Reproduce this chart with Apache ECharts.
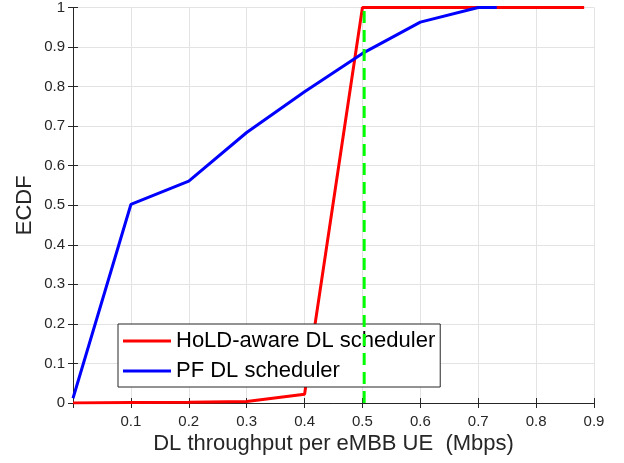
<!DOCTYPE html>
<html><head><meta charset="utf-8">
<script src="https://cdn.jsdelivr.net/npm/echarts@6/dist/echarts.min.js"></script>
<style>html,body{margin:0;padding:0;background:#fff}#c{width:624px;height:463px}</style>
</head><body><div id="c"></div>
<script>
const holdX = [0, 0.1, 0.2, 0.3, 0.4, 0.5, 0.6, 0.7, 0.8, 0.883];
const holdY = [0, 0.001, 0.002, 0.004, 0.022, 1, 1, 1, 1, 1];
const pfX = [0, 0.1, 0.2, 0.3, 0.4, 0.5, 0.6, 0.7, 0.732];
const pfY = [0.012, 0.502, 0.561, 0.684, 0.787, 0.884, 0.963, 1, 1];
const markX = [0.503, 0.503];
const markY = [0, 1];
const seriesNames = ['HoLD-aware DL scheduler', 'PF DL scheduler'];
const xLabel = 'DL throughput per eMBB UE  (Mbps)';
const yLabel = 'ECDF';

const zip = (a, b) => a.map((v, i) => [v, b[i]]);
const font = 'Liberation Sans, Arial, Helvetica, sans-serif';
const ink = '#262626';
const chart = echarts.init(document.getElementById('c'));
const axisCommon = {
  axisLine: {show: true, lineStyle: {color: ink, width: 1}},
  axisTick: {show: true, inside: true, length: 5, lineStyle: {color: ink}},
};
chart.setOption({
  animation: false,
  backgroundColor: '#fff',
  grid: {left: 73, right: 30, top: 7, bottom: 60, containLabel: false},
  xAxis: [{
    type: 'value', min: 0, max: 0.9, interval: 0.1, position: 'bottom',
    ...axisCommon,
    splitLine: {show: true, lineStyle: {color: '#e3e3e3', width: 1}},
    axisLabel: {color: ink, fontSize: 15, fontFamily: font, margin: 11,
      formatter: v => v === 0 ? '' : (+v.toFixed(1)).toString()},
    name: xLabel, nameLocation: 'middle', nameGap: 30, nameMoveOverlap: false,
    nameTextStyle: {color: ink, fontSize: 22, fontFamily: font}
  }, {
    type: 'value', min: 0, max: 0.9, interval: 0.1, position: 'top',
    ...axisCommon, axisLabel: {show: false}, splitLine: {show: false}
  }],
  yAxis: [{
    type: 'value', min: 0, max: 1, interval: 0.1, position: 'left',
    ...axisCommon,
    splitLine: {show: true, lineStyle: {color: '#e3e3e3', width: 1}},
    axisLabel: {color: ink, fontSize: 15, fontFamily: font, margin: 8,
      formatter: v => (v === 0 || v === 1) ? String(v) : v.toFixed(1)},
    name: yLabel, nameLocation: 'middle', nameGap: 37, nameMoveOverlap: false,
    nameTextStyle: {color: ink, fontSize: 22, fontFamily: font}
  }, {
    type: 'value', min: 0, max: 1, interval: 0.1, position: 'right',
    ...axisCommon, axisLabel: {show: false}, splitLine: {show: false}
  }],
  legend: {
    orient: 'vertical', left: 118, top: 324,
    itemWidth: 48, itemHeight: 3, itemGap: 8,
    padding: [6, 5, 5, 5],
    backgroundColor: '#fff', borderColor: ink, borderWidth: 1,
    textStyle: {color: '#000', fontSize: 22, fontFamily: font},
    data: [
      {name: seriesNames[0], icon: 'rect'},
      {name: seriesNames[1], icon: 'rect'}
    ]
  },
  series: [{
    name: seriesNames[0], type: 'line', data: zip(holdX, holdY),
    showSymbol: false, symbol: 'none', color: '#ff0000',
    lineStyle: {color: '#ff0000', width: 3}, z: 2
  }, {
    name: seriesNames[1], type: 'line', data: zip(pfX, pfY),
    showSymbol: false, symbol: 'none', color: '#0000ff',
    lineStyle: {color: '#0000ff', width: 3}, z: 3
  }, {
    name: 'marker', type: 'line', data: zip(markX, markY),
    showSymbol: false, symbol: 'none',
    lineStyle: {color: '#00ff00', width: 3, type: [12, 7]}, z: 10
  }]
});
</script></body></html>
